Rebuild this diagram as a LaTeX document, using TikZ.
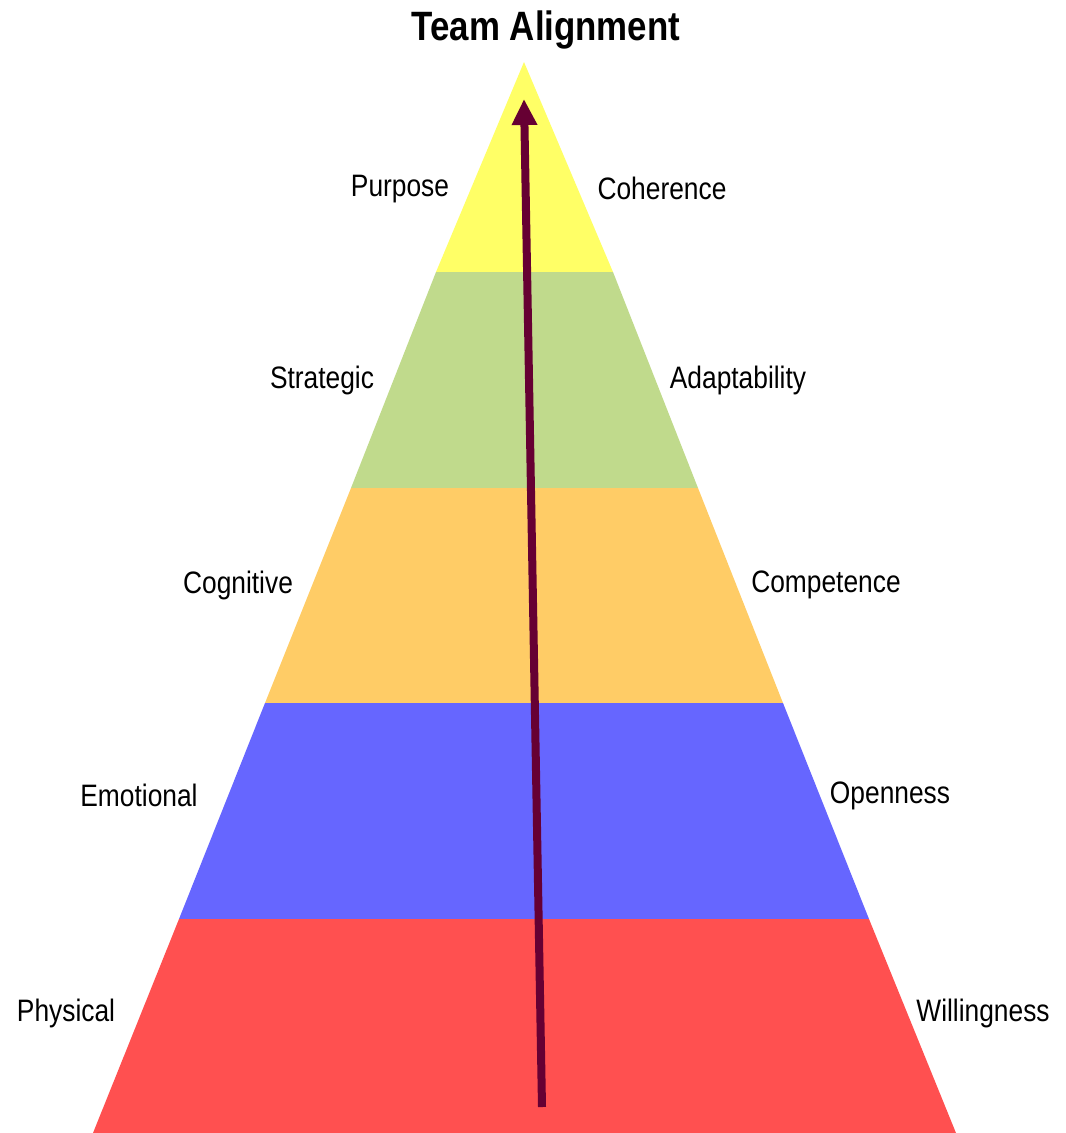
\documentclass[tikz,border=0pt]{standalone}
\usepackage{fontspec}
\setmainfont{Liberation Sans}[FakeStretch=0.85]
\usepackage{tikz}
\usetikzlibrary{arrows.meta}
\definecolor{bandyellow}{HTML}{FFFF66}
\definecolor{bandgreen}{HTML}{C0DA8C}
\definecolor{bandorange}{HTML}{FFCC66}
\definecolor{bandblue}{HTML}{6666FF}
\definecolor{bandred}{HTML}{FF5050}
\definecolor{arrowwine}{HTML}{660033}
\tikzset{
  levellabel/.style={font=\fontsize{31}{35}\selectfont, inner sep=0pt},
}

\begin{document}
\begin{tikzpicture}[x=1pt, y=-1pt]
\useasboundingbox (0,0) rectangle (1066,1133);
% the five layers, top to bottom
\fill[bandyellow]
    (524,62)--(613,272)--(436,272)--cycle;
\fill[bandgreen]
    (436,272)--(613,272)--(698,488)--(351,488)--cycle;
\fill[bandorange]
    (351,488)--(698,488)--(783,703)--(265,703)--cycle;
\fill[bandblue]
    (265,703)--(783,703)--(869,919)--(179,919)--cycle;
\fill[bandred]
    (179,919)--(869,919)--(956,1133)--(93,1133)--cycle;
% arrow up through the pyramid
\coordinate (arrowfoot) at (542,1107);
\coordinate (arrowtop) at (524,99);
\draw[arrowwine, line width=8pt, -{Triangle[length=26pt,width=24pt]}]
    (arrowfoot)--(arrowtop);
% title
\node[font=\fontsize{41}{45}\selectfont\bfseries, inner sep=0pt] (title) at (546,30) {Team Alignment};
% labels, left side
\node[levellabel] (purpose) at (400,189) {Purpose};
\node[levellabel] (strategic) at (322,380) {Strategic};
\node[levellabel] (cognitive) at (238,585) {Cognitive};
\node[levellabel] (emotional) at (139,795) {Emotional};
\node[levellabel] (physical) at (66,1013) {Physical};
% labels, right side
\node[levellabel] (coherence) at (662,188) {Coherence};
\node[levellabel] (adaptability) at (738,380) {Adaptability};
\node[levellabel] (competence) at (826,585) {Competence};
\node[levellabel] (openness) at (890,796) {Openness};
\node[levellabel] (willingness) at (983,1013) {Willingness};
\end{tikzpicture}
\end{document}
